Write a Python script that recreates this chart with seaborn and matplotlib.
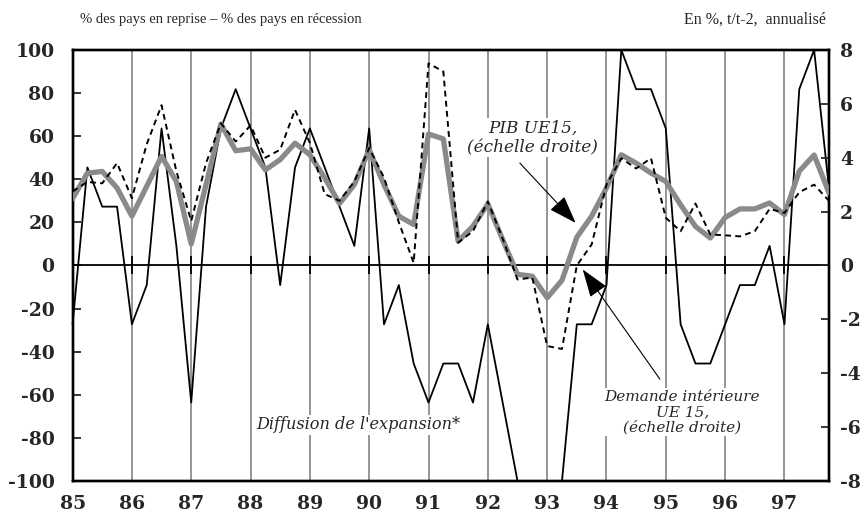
import numpy as np
import pandas as pd
import matplotlib
matplotlib.use("Agg")
import matplotlib.pyplot as plt
import seaborn as sns

# ---------------- data (quarterly, 1985Q1 .. 1997Q4) ----------------
start_year = 1985
n_quarters = 52

# Diffusion de l'expansion (left axis, %)
diffusion = [-27.3, 45.5, 27.3, 27.3, -27.3, -9.1, 63.6, 9.1,
             -63.6, 27.3, 63.6, 81.8, 63.6, 45.5, -9.1, 45.5,
             63.6, 45.5, 27.3, 9.1, 63.6, -27.3, -9.1, -45.5,
             -63.6, -45.5, -45.5, -63.6, -27.3, -63.6, -100, -100,
             -100, -100, -27.3, -27.3, -9.1, 100, 81.8, 81.8,
             63.6, -27.3, -45.5, -45.5, -27.3, -9.1, -9.1, 9.1,
             -27.3, 81.8, 100, 36.0]

# PIB UE15 (right axis, %)
pib = [2.48, 3.43, 3.49, 2.88, 1.83, 2.94, 4.05, 3.12,
       0.80, 3.00, 5.25, 4.26, 4.33, 3.55, 3.93, 4.54,
       4.11, 3.25, 2.30, 3.00, 4.30, 3.00, 1.83, 1.52,
       4.88, 4.70, 0.90, 1.46, 2.28, 0.96, -0.33, -0.40,
       -1.20, -0.55, 1.05, 1.83, 2.88, 4.11, 3.80, 3.43,
       3.12, 2.25, 1.45, 1.02, 1.78, 2.10, 2.10, 2.32,
       1.89, 3.50, 4.10, 2.70]

# Demande intérieure UE 15 (right axis, %)
demande = [2.75, 3.10, 3.05, 3.80, 2.50, 4.50, 5.95, 3.50,
           1.65, 3.80, 5.28, 4.60, 5.20, 4.00, 4.30, 5.78,
           4.55, 2.65, 2.40, 3.12, 4.36, 3.26, 1.60, 0.10,
           7.50, 7.20, 0.85, 1.27, 2.38, 1.00, -0.52, -0.45,
           -2.99, -3.10, 0.00, 0.78, 3.00, 3.98, 3.60, 3.98,
           1.77, 1.27, 2.30, 1.15, 1.12, 1.08, 1.27, 2.10,
           1.95, 2.72, 3.00, 2.40]

year_ticks = list(range(1985, 1998))
year_labels = ["85", "86", "87", "88", "89", "90", "91", "92",
               "93", "94", "95", "96", "97"]
left_ticks = list(range(-100, 101, 20))
right_ticks = list(range(-8, 9, 2))

header_left = "% des pays en reprise \u2013 % des pays en récession"
header_right = "En %, t/t-2,  annualisé"
label_pib = "PIB UE15,\n(échelle droite)"
label_dem = "Demande intérieure\nUE 15,\n(échelle droite)"
label_diff = "Diffusion de l'expansion*"

quarters = start_year + np.arange(n_quarters) / 4.0
df = pd.DataFrame({"t": quarters, "diffusion": diffusion,
                   "pib": pib, "demande": demande})

# ---------------- style ----------------
sns.set_style("white")
plt.rcParams["font.family"] = ["DejaVu Serif", "DejaVu Sans"]
plt.rcParams["axes.unicode_minus"] = False

fig = plt.figure(figsize=(8.68, 5.26), dpi=100)
ax = fig.add_axes([0.0836, 0.0856, 0.8714, 0.8194])
ax2 = ax.twinx()

# grid + zero line
ax.set_axisbelow(True)
for yr in year_ticks[1:]:
    ax.axvline(yr, color="#8c8c8c", lw=1.3, zorder=0)
ax.axhline(0, color="black", lw=1.3, zorder=1)
ax.scatter(year_ticks[1:], [0] * len(year_ticks[1:]), marker="|", s=150,
           color="black", linewidths=1.3, zorder=1)

sns.lineplot(data=df, x="t", y="diffusion", ax=ax, color="black", lw=1.3,
             zorder=2, clip_on=False)
sns.lineplot(data=df, x="t", y="pib", ax=ax2, color="#8a8a8a", lw=3.8,
             zorder=3)
sns.lineplot(data=df, x="t", y="demande", ax=ax2, color="black", lw=1.4,
             linestyle=(0, (3, 2.2)), zorder=4)

ax.set_xlim(1985, 1997.75)
ax.set_ylim(-100, 100)
ax2.set_ylim(-8, 8)

ax.set_xticks(year_ticks)
ax.set_xticklabels(year_labels)
ax.set_yticks(left_ticks)
ax.set_yticklabels([str(v) for v in left_ticks])
ax2.set_yticks(right_ticks)
ax2.set_yticklabels([str(v) for v in right_ticks])

ax.set_xlabel("")
ax.set_ylabel("")
ax2.set_ylabel("")

for lab in ax.get_xticklabels() + ax.get_yticklabels() + ax2.get_yticklabels():
    lab.set_fontfamily("DejaVu Serif")
    lab.set_fontweight("bold")
    lab.set_fontsize(13.5)

ax.tick_params(axis="x", length=0, pad=10)
ax.tick_params(axis="y", direction="in", length=6, width=1.3, pad=13,
               left=True, right=False)
ax2.tick_params(axis="y", direction="in", length=6, width=1.3, pad=8,
                right=True, left=False)

for a in (ax, ax2):
    for s in a.spines.values():
        s.set_visible(True)
        s.set_color("black")
        s.set_linewidth(1.7)

# headers
fig.text(80 / 868, 1 - 20 / 526, header_left, ha="left", va="center",
         fontsize=10.5, family="Liberation Serif")
fig.text(826 / 868, 1 - 20 / 526, header_right, ha="right", va="center",
         fontsize=11.5, family="Liberation Serif")

# annotations (right-axis units)
def txt_kw(size):
    return dict(ha="center", va="center", fontsize=size, style="italic",
                family="DejaVu Serif",
                bbox=dict(facecolor="white", edgecolor="none", pad=1.0))

arrow_kw = dict(arrowstyle="-|>,head_length=0.8,head_width=0.28",
                mutation_scale=22, lw=0.8, color="black",
                shrinkA=0, shrinkB=0)

ax2.annotate("", xy=(1993.48, 1.58), xytext=(1992.54, 3.8),
             arrowprops=arrow_kw, zorder=6)
ax2.text(1992.76, 4.74, label_pib, linespacing=1.2, zorder=7, **txt_kw(12.2))

ax2.annotate("", xy=(1993.60, -0.15), xytext=(1994.90, -4.22),
             arrowprops=arrow_kw, zorder=6)
ax2.text(1995.28, -5.44, label_dem, linespacing=1.1, zorder=7, **txt_kw(11))

ax2.text(1989.82, -5.92, label_diff, zorder=7, **txt_kw(11.6))

fig.savefig("out.png", dpi=100)
